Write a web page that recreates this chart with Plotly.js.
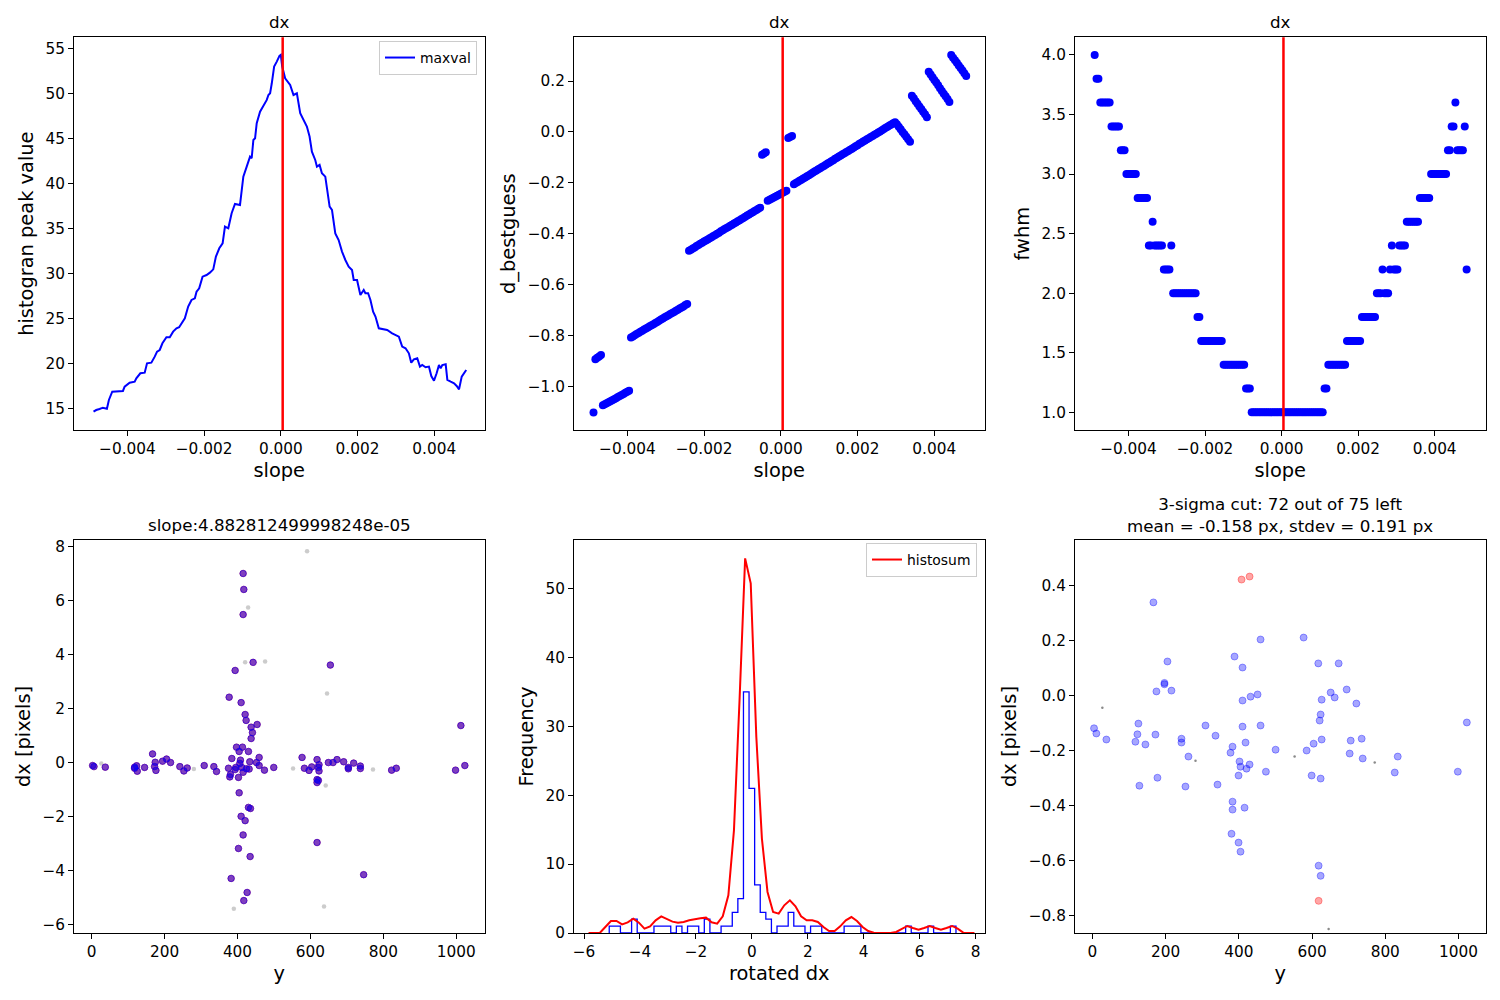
<!DOCTYPE html>
<html><head><meta charset="utf-8">
<script src="https://cdn.plot.ly/plotly-3.0.1.min.js"></script>
<style>html,body{margin:0;padding:0;background:#fff}#chart{width:1500px;height:1000px}</style>
</head><body><div id="chart"></div>
<script>
// ---------- data ----------
const bestSlope = 4.882812499998248e-05;

// panel 1: histogram peak value vs slope (slope in units of 1e-3)
const p1SlopeMilli = [-4.883,-4.813,-4.726,-4.639,-4.534,-4.482,-4.395,-4.116,-4.072,-3.941,
 -3.810,-3.767,-3.662,-3.549,-3.488,-3.375,-3.287,-3.226,-3.157,-3.087,
 -2.982,-2.895,-2.808,-2.720,-2.651,-2.546,-2.502,-2.415,-2.328,-2.241,
 -2.197,-2.128,-2.040,-1.936,-1.849,-1.761,-1.692,-1.604,-1.517,-1.456,
 -1.369,-1.282,-1.195,-1.064,-1.020,-0.977,-0.889,-0.802,-0.759,-0.715,
 -0.671,-0.628,-0.541,-0.453,-0.366,-0.323,-0.279,-0.235,-0.174,-0.105,
 -0.035,0,0.035,0.113,0.244,0.331,0.419,0.506,0.593,0.680,
 0.750,0.811,0.898,0.942,1.011,1.072,1.160,1.203,1.273,1.334,
 1.421,1.508,1.596,1.683,1.770,1.857,1.901,1.988,2.075,2.162,
 2.206,2.276,2.337,2.407,2.468,2.555,2.642,2.773,2.904,2.991,
 3.078,3.165,3.252,3.339,3.401,3.470,3.558,3.628,3.688,3.775,
 3.863,3.924,3.994,4.063,4.124,4.168,4.211,4.299,4.342,4.429,
 4.517,4.586,4.647,4.717,4.786,4.834];
const p1Maxval = [14.63,14.81,14.93,15.07,14.96,15.93,16.85,16.93,17.41,17.85,
 17.96,18.33,18.89,18.96,20.0,20.07,20.74,21.30,21.48,22.22,
 22.89,22.89,23.52,23.89,24.0,24.63,25.0,26.30,27.04,27.22,
 27.96,28.33,29.63,29.81,30.07,30.44,31.85,32.78,33.33,35.19,
 35.0,36.67,37.70,37.59,39.26,40.74,41.85,42.96,42.78,44.81,
 45.0,46.67,47.96,48.70,49.26,49.81,50.0,51.11,52.96,53.52,
 54.15,54.26,53.0,51.67,50.93,49.81,50.0,47.78,47.04,46.30,
 45.19,43.52,42.59,41.85,42.04,41.11,40.74,39.26,37.41,37.04,
 34.44,33.70,32.41,31.48,30.74,30.37,29.26,29.26,27.59,28.15,
 27.78,27.78,27.04,25.74,25.19,23.89,23.81,23.70,23.33,23.15,
 22.96,21.85,21.67,21.11,20.07,20.44,20.56,19.63,19.81,19.56,
 19.63,18.59,18.07,18.89,19.81,19.44,19.81,19.89,18.15,17.96,
 17.78,17.48,17.11,18.52,18.89,19.26];

// slope grid for panels 2 and 3 (units of 1e-3)
const slopeGridMilli = [-4.883,-4.834,-4.785,-4.736,-4.688,-4.639,-4.590,-4.541,-4.492,-4.443,
 -4.395,-4.346,-4.297,-4.248,-4.199,-4.150,-4.102,-4.053,-4.004,-3.955,
 -3.906,-3.857,-3.809,-3.760,-3.711,-3.662,-3.613,-3.564,-3.516,-3.467,
 -3.418,-3.369,-3.320,-3.271,-3.223,-3.174,-3.125,-3.076,-3.027,-2.979,
 -2.930,-2.881,-2.832,-2.783,-2.734,-2.686,-2.637,-2.588,-2.539,-2.490,
 -2.441,-2.393,-2.344,-2.295,-2.246,-2.197,-2.148,-2.100,-2.051,-2.002,
 -1.953,-1.904,-1.855,-1.807,-1.758,-1.709,-1.660,-1.611,-1.563,-1.514,
 -1.465,-1.416,-1.367,-1.318,-1.270,-1.221,-1.172,-1.123,-1.074,-1.025,
 -0.977,-0.928,-0.879,-0.830,-0.781,-0.732,-0.684,-0.635,-0.586,-0.537,
 -0.488,-0.439,-0.391,-0.342,-0.293,-0.244,-0.195,-0.146,-0.098,-0.049,
 0,0.049,0.098,0.146,0.195,0.244,0.293,0.342,0.391,0.439,
 0.488,0.537,0.586,0.635,0.684,0.732,0.781,0.830,0.879,0.928,
 0.977,1.025,1.074,1.123,1.172,1.221,1.270,1.318,1.367,1.416,
 1.465,1.514,1.563,1.611,1.660,1.709,1.758,1.807,1.855,1.904,
 1.953,2.002,2.051,2.100,2.148,2.197,2.246,2.295,2.344,2.393,
 2.441,2.490,2.539,2.588,2.637,2.686,2.734,2.783,2.832,2.881,
 2.930,2.979,3.027,3.076,3.125,3.174,3.223,3.271,3.320,3.369,
 3.418,3.467,3.516,3.564,3.613,3.662,3.711,3.760,3.809,3.857,
 3.906,3.955,4.004,4.053,4.102,4.150,4.199,4.248,4.297,4.346,
 4.395,4.443,4.492,4.541,4.590,4.639,4.688,4.736,4.785,4.834];

// panel 2: d_bestguess
const p2Dbest = [-1.103,-0.894,-0.888,-0.883,-0.877,
 -1.075,-1.071,-1.067,-1.063,-1.059,-1.055,-1.051,-1.047,-1.042,-1.038,-1.034,-1.030,-1.026,-1.022,-1.018,
 -0.808,-0.804,-0.799,-0.795,-0.791,-0.786,-0.782,-0.777,-0.773,-0.769,-0.764,-0.760,-0.756,-0.751,-0.747,-0.742,
 -0.738,-0.734,-0.729,-0.725,-0.721,-0.716,-0.712,-0.708,-0.703,-0.699,-0.694,-0.690,-0.686,-0.681,-0.677,
 -0.467,-0.463,-0.458,-0.454,-0.449,-0.445,-0.440,-0.436,-0.431,-0.427,-0.423,-0.418,-0.414,-0.409,-0.405,-0.400,
 -0.396,-0.391,-0.387,-0.382,-0.378,-0.374,-0.369,-0.365,-0.360,-0.356,-0.351,-0.347,-0.342,-0.338,-0.334,-0.329,
 -0.325,-0.320,-0.316,-0.311,-0.307,-0.302,-0.298,
 -0.090,-0.085,-0.080,
 -0.271,-0.267,-0.263,-0.259,-0.255,-0.251,-0.247,-0.243,-0.239,-0.235,-0.231,
 -0.024,-0.020,-0.016,
 -0.206,-0.201,-0.197,-0.192,-0.188,-0.183,-0.179,-0.174,-0.170,-0.165,-0.161,-0.156,-0.152,-0.147,-0.143,-0.138,
 -0.134,-0.129,-0.124,-0.120,-0.115,-0.111,-0.106,-0.102,-0.097,-0.093,-0.088,-0.084,-0.079,-0.075,-0.070,-0.066,
 -0.061,-0.056,-0.052,-0.047,-0.043,-0.038,-0.034,-0.029,-0.025,-0.020,-0.016,-0.011,-0.007,-0.002,0.002,0.007,
 0.011,0.016,0.020,0.025,0.029,0.034,0.038,
 0.030,0.020,0.010,0.000,-0.009,-0.019,-0.029,-0.039,
 0.142,0.132,0.121,0.111,0.100,0.090,0.079,0.069,0.058,
 0.237,0.226,0.215,0.204,0.194,0.183,0.172,0.161,0.150,0.140,0.129,0.118,
 0.302,0.292,0.282,0.272,0.261,0.251,0.241,0.231,0.220];

// panel 3: fwhm
const p3Fwhm = [4.0,3.8,3.8,3.6,3.6,3.6,3.6,3.6,3.6,3.4,
 3.4,3.4,3.4,3.4,3.2,3.2,3.2,3.0,3.0,3.0,
 3.0,3.0,3.0,2.8,2.8,2.8,2.8,2.8,2.8,2.4,
 2.4,2.6,2.4,2.4,2.4,2.4,2.4,2.2,2.2,2.2,
 2.2,2.4,2.0,2.0,2.0,2.0,2.0,2.0,2.0,2.0,
 2.0,2.0,2.0,2.0,2.0,1.8,1.8,1.6,1.6,1.6,
 1.6,1.6,1.6,1.6,1.6,1.6,1.6,1.6,1.6,1.4,
 1.4,1.4,1.4,1.4,1.4,1.4,1.4,1.4,1.4,1.4,
 1.4,1.2,1.2,1.2,1.0,1.0,1.0,1.0,1.0,1.0,
 1.0,1.0,1.0,1.0,1.0,1.0,1.0,1.0,1.0,1.0,
 1.0,1.0,1.0,1.0,1.0,1.0,1.0,1.0,1.0,1.0,
 1.0,1.0,1.0,1.0,1.0,1.0,1.0,1.0,1.0,1.0,
 1.0,1.0,1.0,1.2,1.2,1.4,1.4,1.4,1.4,1.4,
 1.4,1.4,1.4,1.4,1.4,1.6,1.6,1.6,1.6,1.6,
 1.6,1.6,1.6,1.8,1.8,1.8,1.8,1.8,1.8,1.8,
 1.8,2.0,2.0,2.0,2.2,2.0,2.0,2.0,2.2,2.4,
 2.2,2.2,2.2,2.4,2.4,2.4,2.4,2.6,2.6,2.6,
 2.6,2.6,2.6,2.6,2.8,2.8,2.8,2.8,2.8,2.8,
 3.0,3.0,3.0,3.0,3.0,3.0,3.0,3.0,3.0,3.2,
 3.2,3.4,3.4,3.6,3.2,3.2,3.2,3.2,3.4,2.2];

// panel 4: dx vs y (blue over red), grey rejected points
const p4Y = [415.5,417.4,415.5,442.9,393.6,654.8,377.2,410.0,421.0,423.7,
 453.9,437.4,441.1,437.4,1012.8,397.3,413.7,404.6,430.1,167.1,
 384.5,459.4,577.2,408.2,433.8,452.1,618.3,174.4,194.5,205.5,
 216.4,649.3,662.1,673.1,691.3,718.7,2.7,6.4,37.4,117.8,
 123.3,145.2,172.6,242.0,262.1,308.7,335.2,459.4,499.5,583.6,
 603.7,623.7,621.9,704.1,737.0,835.6,1023.7,375.3,395.4,411.9,
 424.7,432.0,125.1,176.3,253.0,342.5,380.8,402.7,415.5,474.0,
 596.3,623.7,704.1,737.0,822.8,998.2,618.3,618.3,621.9,404.6,
 430.1,435.6,410.0,421.0,415.5,618.3,402.7,434.7,382.6,746.1,
 426.5,417.4,379.0,117.8,393.6,406.4];
const p4Dx = [7.01,6.42,5.49,3.72,3.42,3.62,2.43,2.23,1.79,1.57,
 1.42,1.32,1.12,0.90,1.38,0.58,0.58,0.42,0.42,0.33,
 0.16,0.20,0.20,0.10,0.04,0.01,0.12,0.02,0.06,0.14,
 0.01,0.01,0.01,0.12,0.04,-0.01,-0.10,-0.14,-0.16,-0.16,
 -0.11,-0.17,-0.14,-0.14,-0.19,-0.10,-0.14,-0.10,-0.17,-0.20,
 -0.15,-0.07,-0.17,-0.17,-0.12,-0.20,-0.10,-0.20,-0.17,-0.17,
 -0.22,-0.23,-0.31,-0.28,-0.30,-0.32,-0.43,-0.54,-0.35,-0.27,
 -0.28,-0.30,-0.22,-0.21,-0.27,-0.27,-0.62,-0.73,-0.65,-1.11,
 -1.65,-1.69,-1.98,-2.14,-2.67,-2.95,-3.17,-3.47,-4.28,-4.14,
 -4.80,-5.10,-0.52,-0.20,-0.25,-0.02];
const p4GreyY = [590.9,429.2,421.0,475.8,645.7,26.5,280.4,552.5,771.7,642.0,390.0,637.4];
const p4GreyDx = [7.83,5.75,3.72,3.75,2.57,-0.02,-0.23,-0.21,-0.25,-0.84,-5.40,-5.32];

// panel 5: histogram of rotated dx and histosum curve
const histEdges = [-5.1,-4.9,-4.7,-4.5,-4.3,-4.1,-3.9,-3.7,-3.5,-3.3,-3.1,-2.9,-2.7,-2.5,-2.3,-2.1,
 -1.9,-1.7,-1.5,-1.3,-1.1,-0.9,-0.7,-0.5,-0.3,-0.1,0.1,0.3,0.5,0.7,0.9,1.1,1.3,1.5,1.7,1.9,
 2.1,2.3,2.5,2.7,2.9,3.1,3.3,3.5,3.7,3.9,4.1,4.3,4.5,4.7,4.9,5.1,5.3,5.5,5.7,5.9,6.1,6.3,
 6.5,6.7,6.9,7.1,7.3];
const histCounts = [1,1,0,0,2,0,0,0,1,1,1,0,1,0,1,1,0,2,0,0,1,1,3,5,35,21,7,3,2,0,1,1,3,1,1,0,
 1,1,0,0,0,0,1,1,1,0,0,0,0,0,0,0,0,1,0,0,0,1,0,0,0,1];
const histosumX = [-5.84,-5.64,-5.44,-5.24,-5.04,-4.84,-4.64,-4.44,-4.24,-4.04,
 -3.84,-3.64,-3.44,-3.24,-3.04,-2.84,-2.64,-2.44,-2.24,-2.04,
 -1.84,-1.64,-1.44,-1.24,-1.04,-0.84,-0.64,-0.44,-0.24,-0.04,
 0.16,0.36,0.56,0.76,0.96,1.16,1.36,1.56,1.76,1.96,
 2.16,2.36,2.56,2.76,2.96,3.16,3.36,3.56,3.76,3.96,
 4.16,4.36,4.56,4.76,4.96,5.16,5.36,5.56,5.76,5.96,
 6.16,6.36,6.56,6.76,6.96,7.16,7.36,7.56,7.76,7.96];
const histosumY = [0,0,0,0.87,1.74,1.74,1.26,1.55,2.08,1.50,
 0.63,0.97,1.84,2.42,2.08,1.65,1.50,1.60,1.84,2.03,
 2.13,2.23,1.55,1.36,2.42,5.47,14.9,33.8,54.38,50.75,
 28.47,13.70,5.96,3.05,2.81,4.02,4.75,3.87,2.42,1.84,
 1.84,1.60,0.87,0.29,0.29,0.97,1.84,2.32,1.74,0.87,
 0.29,0.05,0.05,0,0,0.15,0.63,1.02,0.73,0.48,
 0.73,1.02,0.73,0.48,0.73,1.02,0.63,0.05,0,0];

// panel 6: 3-sigma cut
const p6KeptY = [166.8,459.4,577.0,388.3,410.2,205.1,617.1,672.7,196.9,175.0,
 216.0,694.6,650.9,661.8,626.3,721.1,410.2,432.1,451.2,623.5,
 620.8,1022.8,4.6,10.9,38.3,125.8,123.1,172.3,117.6,144.9,
 243.4,243.4,309.0,336.4,410.2,459.4,382.9,377.4,418.4,500.5,
 585.2,604.4,626.3,705.6,735.6,702.8,738.4,834.1,262.5,402.0,
 404.7,421.1,429.4,399.3,474.0,598.9,623.5,825.9,998.2,177.8,
 128.5,254.3,341.8,382.9,382.9,415.7,380.1,399.3,404.7,618.0,
 623.5,196.9];
const p6KeptDx = [0.339,0.204,0.211,0.142,0.102,0.124,0.117,0.117,0.041,0.015,
 0.018,0.022,0.011,-0.007,-0.015,-0.029,-0.018,-0.004,0.004,-0.069,
 -0.091,-0.098,-0.119,-0.138,-0.160,-0.102,-0.141,-0.142,-0.168,-0.178,
 -0.157,-0.171,-0.109,-0.146,-0.113,-0.109,-0.186,-0.208,-0.171,-0.197,
 -0.200,-0.175,-0.160,-0.164,-0.157,-0.211,-0.229,-0.222,-0.222,-0.240,
 -0.259,-0.266,-0.251,-0.291,-0.277,-0.291,-0.302,-0.280,-0.277,-0.299,
 -0.328,-0.331,-0.324,-0.386,-0.415,-0.408,-0.503,-0.535,-0.568,-0.619,
 -0.656,0.046];
const p6CutY = [407.5,429.4,618.0];
const p6CutDx = [0.422,0.433,-0.747];
const p6DotY = [27.3,281.7,552.4,771.2,645.4];
const p6DotDx = [-0.044,-0.237,-0.222,-0.244,-0.849];

// text
const topTitle = 'dx';
const p4Title = 'slope:4.882812499998248e-05';
const p6Title = '3-sigma cut: 72 out of 75 left<br>mean = -0.158 px, stdev = 0.191 px';

// ---------- build ----------
const FONT = 'DejaVu Sans, Verdana, sans-serif';
const milli = a => a.map(v => v / 1000);

const stepX = [histEdges[0]], stepY = [0];
for (let k = 0; k < histCounts.length; k++) {
  stepX.push(histEdges[k], histEdges[k + 1]);
  stepY.push(histCounts[k], histCounts[k]);
}
stepX.push(histEdges[histEdges.length - 1]); stepY.push(0);

const traces = [
  {x: milli(p1SlopeMilli), y: p1Maxval, type: 'scatter', mode: 'lines', name: 'maxval',
   line: {color: 'blue', width: 2}, xaxis: 'x', yaxis: 'y', legend: 'legend'},
  {x: milli(slopeGridMilli), y: p2Dbest, type: 'scatter', mode: 'markers', showlegend: false,
   marker: {color: 'blue', size: 8, line: {width: 0}}, xaxis: 'x2', yaxis: 'y2'},
  {x: milli(slopeGridMilli), y: p3Fwhm, type: 'scatter', mode: 'markers', showlegend: false,
   marker: {color: 'blue', size: 8, line: {width: 0}}, xaxis: 'x3', yaxis: 'y3'},
  {x: p4GreyY, y: p4GreyDx, type: 'scatter', mode: 'markers', showlegend: false,
   marker: {color: 'rgba(128,128,128,0.4)', size: 4.5, line: {width: 0}}, xaxis: 'x4', yaxis: 'y4'},
  {x: p4Y, y: p4Dx, type: 'scatter', mode: 'markers', showlegend: false,
   marker: {color: 'rgba(255,0,0,0.5)', size: 6.5, line: {color: 'rgba(255,0,0,0.5)', width: 1}}, xaxis: 'x4', yaxis: 'y4'},
  {x: p4Y, y: p4Dx, type: 'scatter', mode: 'markers', showlegend: false,
   marker: {color: 'rgba(0,0,255,0.5)', size: 6.5, line: {color: 'rgba(0,0,255,0.5)', width: 1}}, xaxis: 'x4', yaxis: 'y4'},
  {x: stepX, y: stepY, type: 'scatter', mode: 'lines', showlegend: false,
   line: {color: 'blue', width: 1.3}, xaxis: 'x5', yaxis: 'y5'},
  {x: histosumX, y: histosumY, type: 'scatter', mode: 'lines', name: 'histosum',
   line: {color: 'red', width: 2}, xaxis: 'x5', yaxis: 'y5', legend: 'legend2'},
  {x: p6DotY, y: p6DotDx, type: 'scatter', mode: 'markers', showlegend: false,
   marker: {color: 'rgba(60,60,60,0.6)', size: 2.5, line: {width: 0}}, xaxis: 'x6', yaxis: 'y6'},
  {x: p6KeptY, y: p6KeptDx, type: 'scatter', mode: 'markers', showlegend: false,
   marker: {color: 'rgba(0,0,255,0.35)', size: 7, line: {color: 'rgba(0,0,255,0.35)', width: 1}}, xaxis: 'x6', yaxis: 'y6'},
  {x: p6CutY, y: p6CutDx, type: 'scatter', mode: 'markers', showlegend: false,
   marker: {color: 'rgba(255,0,0,0.35)', size: 7, line: {color: 'rgba(255,0,0,0.35)', width: 1}}, xaxis: 'x6', yaxis: 'y6'}
];

function ax(extra) {
  return Object.assign({
    showline: true, mirror: true, linecolor: '#000', linewidth: 1,
    ticks: 'outside', ticklen: 5, tickwidth: 1, tickcolor: '#000',
    showgrid: false, zeroline: false, automargin: false,
    tickfont: {family: FONT, size: 15.3, color: '#000'}
  }, extra);
}
function ttl(t, so) { return {text: t, standoff: so, font: {family: FONT, size: 19.4, color: '#000'}}; }
const XS = 6, YS = 6;

const W = 1500, H = 1000;
const c1 = [74 / W, 484.5 / W], c2 = [574 / W, 984.5 / W], c3 = [1075 / W, 1485.5 / W];
const rTop = [1 - 430 / H, 1 - 37.3 / H], rBot = [1 - 933 / H, 1 - 540 / H];

const slopeTicks = [-0.004, -0.002, 0, 0.002, 0.004];

const layout = {
  width: W, height: H, margin: {l: 0, r: 0, t: 0, b: 0},
  paper_bgcolor: '#fff', plot_bgcolor: '#fff',
  font: {family: FONT, color: '#000'},
  xaxis: ax({domain: c1, anchor: 'y', range: [-0.005392, 0.005311], tickvals: slopeTicks, tickformat: '.3f', title: ttl('slope', XS)}),
  yaxis: ax({domain: rTop, anchor: 'x', range: [12.59, 56.22], dtick: 5, tick0: 0, title: ttl('histogran peak value', YS)}),
  xaxis2: ax({domain: c2, anchor: 'y2', range: [-0.005392, 0.005311], tickvals: slopeTicks, tickformat: '.3f', title: ttl('slope', XS)}),
  yaxis2: ax({domain: rTop, anchor: 'x2', range: [-1.172, 0.372], dtick: 0.2, tick0: 0, tickformat: '.1f', title: ttl('d_bestguess', YS)}),
  xaxis3: ax({domain: c3, anchor: 'y3', range: [-0.005397, 0.005327], tickvals: slopeTicks, tickformat: '.3f', title: ttl('slope', XS)}),
  yaxis3: ax({domain: rTop, anchor: 'x3', range: [0.852, 4.148], dtick: 0.5, tick0: 0, tickformat: '.1f', title: ttl('fwhm', YS)}),
  xaxis4: ax({domain: c1, anchor: 'y4', range: [-48.4, 1077.6], dtick: 200, tick0: 0, title: ttl('y', XS)}),
  yaxis4: ax({domain: rBot, anchor: 'x4', range: [-6.30, 8.25], dtick: 2, tick0: 0, title: ttl('dx [pixels]', YS)}),
  xaxis5: ax({domain: c2, anchor: 'y5', range: [-6.36, 8.32], dtick: 2, tick0: 0, title: ttl('rotated dx', XS)}),
  yaxis5: ax({domain: rBot, anchor: 'x5', range: [0, 57.05], dtick: 10, tick0: 0, title: ttl('Frequency', YS)}),
  xaxis6: ax({domain: c3, anchor: 'y6', range: [-47.4, 1073.8], dtick: 200, tick0: 0, title: ttl('y', XS)}),
  yaxis6: ax({domain: rBot, anchor: 'x6', range: [-0.864, 0.566], dtick: 0.2, tick0: 0, tickformat: '.1f', title: ttl('dx [pixels]', YS)}),
  shapes: ['x', 'x2', 'x3'].map(xr => ({
    type: 'line', xref: xr, yref: (xr === 'x' ? 'y' : 'y' + xr.slice(1)) + ' domain',
    x0: bestSlope, x1: bestSlope, y0: 0, y1: 1, line: {color: 'red', width: 2.5}, layer: 'above'
  })),
  annotations: [
    {text: topTitle, x: (c1[0] + c1[1]) / 2, y: rTop[1], xref: 'paper', yref: 'paper', xanchor: 'center', yanchor: 'bottom', yshift: 3, showarrow: false, font: {family: FONT, size: 16.7, color: '#000'}},
    {text: topTitle, x: (c2[0] + c2[1]) / 2, y: rTop[1], xref: 'paper', yref: 'paper', xanchor: 'center', yanchor: 'bottom', yshift: 3, showarrow: false, font: {family: FONT, size: 16.7, color: '#000'}},
    {text: topTitle, x: (c3[0] + c3[1]) / 2, y: rTop[1], xref: 'paper', yref: 'paper', xanchor: 'center', yanchor: 'bottom', yshift: 3, showarrow: false, font: {family: FONT, size: 16.7, color: '#000'}},
    {text: p4Title, x: (c1[0] + c1[1]) / 2, y: rBot[1], xref: 'paper', yref: 'paper', xanchor: 'center', yanchor: 'bottom', yshift: 3, showarrow: false, font: {family: FONT, size: 16.7, color: '#000'}},
    {text: p6Title, x: (c3[0] + c3[1]) / 2, y: rBot[1], xref: 'paper', yref: 'paper', xanchor: 'center', yanchor: 'bottom', yshift: 2, showarrow: false, font: {family: FONT, size: 16.7, color: '#000'}}
  ],
  legend: {x: 477 / W, y: 1 - 41 / H, xanchor: 'right', yanchor: 'top', bgcolor: 'rgba(255,255,255,0.8)',
           bordercolor: '#cccccc', borderwidth: 1, font: {family: FONT, size: 13.9, color: '#000'}},
  legend2: {x: 977 / W, y: 1 - 543 / H, xanchor: 'right', yanchor: 'top', bgcolor: 'rgba(255,255,255,0.8)',
            bordercolor: '#cccccc', borderwidth: 1, font: {family: FONT, size: 13.9, color: '#000'}}
};

Plotly.newPlot('chart', traces, layout, {staticPlot: true, displayModeBar: false});
</script></body></html>
